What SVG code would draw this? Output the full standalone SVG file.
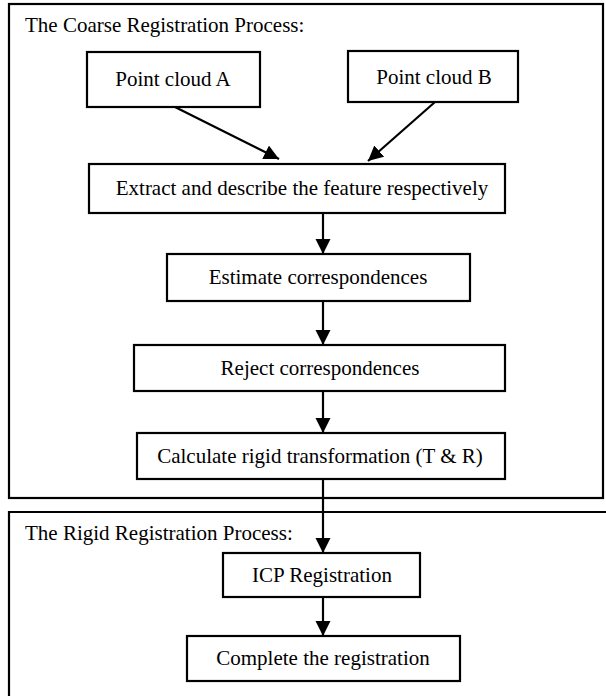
<svg xmlns="http://www.w3.org/2000/svg" width="606" height="696" viewBox="0 0 606 696">
  <defs>
    <style>
      .frame { fill: none; stroke: #000; stroke-width: 2.2; }
      .box { fill: #fff; stroke: #000; stroke-width: 2.2; }
      .lbl { font-family: "Liberation Serif", "Times New Roman", serif; font-size: 21px; fill: #000; text-anchor: middle; }
      .ttl { font-family: "Liberation Serif", "Times New Roman", serif; font-size: 21px; fill: #000; }
      .conn { fill: none; stroke: #000; stroke-width: 2.2; marker-end: url(#arrow); }
    </style>
    <marker id="arrow" markerUnits="userSpaceOnUse" markerWidth="16" markerHeight="16" refX="15" refY="7.5" orient="auto">
      <path d="M0,0 L15,7.5 L0,15 Z" fill="#000"/>
    </marker>
  </defs>
  <rect width="606" height="696" fill="#fff"/>

  <g id="coarse-frame">
    <rect class="frame" x="9" y="4" width="594" height="494"/>
    <text class="ttl" x="25" y="32">The Coarse Registration Process:</text>
  </g>
  <g id="rigid-frame">
    <path class="frame" d="M9,700 L9,512 L610,512"/>
    <text class="ttl" x="25" y="540">The Rigid Registration Process:</text>
  </g>

  <g id="point-cloud-a">
    <rect class="box" x="87" y="52" width="173" height="55"/>
    <text class="lbl" x="173" y="86">Point cloud A</text>
  </g>
  <g id="point-cloud-b">
    <rect class="box" x="348" y="51" width="170" height="51"/>
    <text class="lbl" x="434" y="84">Point cloud B</text>
  </g>
  <g id="extract">
    <rect class="box" x="89" y="164" width="416" height="49"/>
    <text class="lbl" x="302" y="195">Extract and describe the feature respectively</text>
  </g>
  <g id="estimate">
    <rect class="box" x="167" y="254" width="303" height="47"/>
    <text class="lbl" x="318" y="284">Estimate correspondences</text>
  </g>
  <g id="reject">
    <rect class="box" x="134" y="345" width="371" height="46"/>
    <text class="lbl" x="320" y="375">Reject correspondences</text>
  </g>
  <g id="calculate">
    <rect class="box" x="137" y="433" width="368" height="46"/>
    <text class="lbl" x="320" y="463">Calculate rigid transformation (T &amp; R)</text>
  </g>
  <g id="icp">
    <rect class="box" x="223" y="553" width="197" height="44"/>
    <text class="lbl" x="322" y="582">ICP Registration</text>
  </g>
  <g id="complete">
    <rect class="box" x="187" y="636" width="273" height="45"/>
    <text class="lbl" x="323" y="665">Complete the registration</text>
  </g>

  <g id="connectors">
    <line class="conn" x1="175" y1="107" x2="279" y2="159"/>
    <line class="conn" x1="435" y1="102" x2="368" y2="161"/>
    <line class="conn" x1="323" y1="213" x2="323" y2="254"/>
    <line class="conn" x1="323" y1="301" x2="323" y2="345"/>
    <line class="conn" x1="323" y1="391" x2="323" y2="433"/>
    <line class="conn" x1="323" y1="479" x2="323" y2="553"/>
    <line class="conn" x1="323" y1="597" x2="323" y2="636"/>
  </g>
</svg>
